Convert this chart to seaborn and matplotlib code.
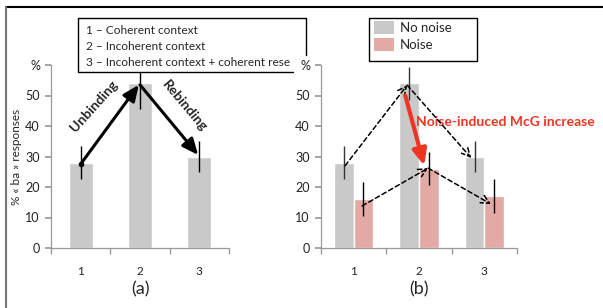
import matplotlib
matplotlib.use("Agg")
import matplotlib.pyplot as plt
import seaborn as sns
import pandas as pd
from matplotlib.lines import Line2D
from matplotlib.patches import Polygon, Patch, Rectangle

# data
contexts = ["1", "2", "3"]
a_values = [28, 54, 30]
a_errors = [5.5, 8.5, 5]

conditions = ["No noise", "Noise"]
b_no_noise = [28, 54, 30]
b_no_noise_err = [5.5, 5.5, 5]
b_noise = [16, 26, 17]
b_noise_err = [5.5, 5.5, 5.5]

legend_a = ["1 \u2013 Coherent context",
            "2 \u2013 Incoherent context",
            "3 \u2013 Incoherent context + coherent rese"]
yticks = [0, 10, 20, 30, 40, 50, 60]
ytick_labels = ["0", "10", "20", "30", "40", "50", "%"]

GRAY = "#c9c9c9"
PINK = "#e3a9a5"
AXC = "#9a9a9a"
W, H = 603, 308

sns.set_theme(style="white")
plt.rcParams["font.family"] = ["Lato", "DejaVu Sans"]


def fx(px):
    return px / W


def fy(py):
    return 1 - py / H


fig = plt.figure(figsize=(W / 100, H / 100), dpi=100)
ax_a = fig.add_axes([fx(51), fy(248), fx(229) - fx(51), fy(65) - fy(248)])
ax_b = fig.add_axes([fx(321), fy(248), fx(517) - fx(321), fy(65) - fy(248)])


def style_axes(ax):
    ax.set_ylim(0, 60)
    ax.set_xlim(-0.5, 2.5)
    ax.set_yticks(yticks)
    ax.set_yticklabels(ytick_labels)
    for s in ["top", "right"]:
        ax.spines[s].set_visible(False)
    for s in ["left", "bottom"]:
        ax.spines[s].set_color(AXC)
        ax.spines[s].set_linewidth(0.9)
    ax.tick_params(axis="y", left=True, length=4, color=AXC, labelsize=9,
                   pad=4, labelcolor="#222222")
    ax.tick_params(axis="x", which="major", bottom=False, labelsize=8.5,
                   pad=7, labelcolor="#222222")
    ax.set_xticks([-0.5, 0.5, 1.5, 2.5], minor=True)
    ax.tick_params(axis="x", which="minor", bottom=True, length=4, color=AXC)


# panel (a)
df_a = pd.DataFrame({"context": contexts, "value": a_values})
sns.barplot(data=df_a, x="context", y="value", color=GRAY, width=0.4,
            saturation=1, errorbar=None, ax=ax_a)
ax_a.errorbar(range(3), a_values, yerr=a_errors, fmt="none", ecolor="black",
              elinewidth=1, capsize=0, clip_on=False, zorder=3)
style_axes(ax_a)
ax_a.set_xlabel("(a)", fontsize=13, labelpad=3)
ax_a.set_ylabel("% \u00ab ba \u00bb responses", fontsize=8.5)
ax_a.yaxis.set_label_coords(-0.165, 0.5)

arrow_kw = dict(arrowstyle="-|>,head_length=0.8,head_width=0.35", color="black",
                lw=2.2, shrinkA=0, shrinkB=0)
ax_a.annotate("", xy=(0.98, 53.5), xytext=(0, 27.5), arrowprops=arrow_kw,
              annotation_clip=False, zorder=4)
ax_a.annotate("", xy=(1.98, 30.5), xytext=(1.0, 53.5), arrowprops=arrow_kw,
              annotation_clip=False, zorder=4)
ax_a.plot([0], [27.5], "o", color="black", ms=3, zorder=4)
ax_a.text(0.22, 46.5, "Unbinding", rotation=48, ha="center", va="center",
          fontsize=10, fontweight="bold")
ax_a.text(1.75, 46.5, "Rebinding", rotation=-50, ha="center", va="center",
          fontsize=10, fontweight="bold")

# panel (b)
df_b = pd.DataFrame({
    "context": contexts * 2,
    "value": b_no_noise + b_noise,
    "condition": [conditions[0]] * 3 + [conditions[1]] * 3,
})
sns.barplot(data=df_b, x="context", y="value", hue="condition",
            palette=[GRAY, PINK], width=0.6, saturation=1, errorbar=None,
            legend=False, ax=ax_b)
ax_b.errorbar([i - 0.15 for i in range(3)], b_no_noise, yerr=b_no_noise_err,
              fmt="none", ecolor="#333333", elinewidth=1, capsize=0, zorder=3)
ax_b.errorbar([i + 0.15 for i in range(3)], b_noise, yerr=b_noise_err,
              fmt="none", ecolor="black", elinewidth=1, capsize=0, zorder=3)
style_axes(ax_b)
ax_b.set_ylabel("")
ax_b.set_xlabel("(b)", fontsize=13, labelpad=3)

dash_kw = dict(arrowstyle="->,head_length=0.5,head_width=0.25", color="black",
               lw=1.1, ls=(0, (3, 2)), shrinkA=0, shrinkB=0)
ax_b.annotate("", xy=(0.82, 53.4), xytext=(-0.13, 27), arrowprops=dash_kw, zorder=4)
ax_b.annotate("", xy=(1.80, 29.5), xytext=(0.82, 53.4), arrowprops=dash_kw, zorder=4)
ax_b.annotate("", xy=(1.14, 26.2), xytext=(0.13, 13.8), arrowprops=dash_kw, zorder=4)
ax_b.annotate("", xy=(2.10, 14.4), xytext=(1.14, 26.2), arrowprops=dash_kw, zorder=4)

ax_b.annotate("", xy=(1.08, 27), xytext=(0.79, 50),
              arrowprops=dict(arrowstyle="-|>,head_length=0.8,head_width=0.35",
                              color="#ee3524", lw=3, shrinkA=0, shrinkB=0),
              zorder=5)
ax_b.text(0.96, 41.3, "Noise-induced McG increase", color="#ee3524",
          fontsize=10, fontweight="bold", ha="left", va="center")

# legend of panel (b)
fig.add_artist(Rectangle((fx(369), fy(61)), fx(477) - fx(369), fy(18) - fy(61),
                         facecolor="white", edgecolor="black", lw=1,
                         transform=fig.transFigure, zorder=5))
handles = [Patch(facecolor=GRAY, edgecolor="none"),
           Patch(facecolor=PINK, edgecolor="none")]
leg = fig.legend(handles, conditions, loc="upper left",
                 bbox_to_anchor=(fx(372), fy(19)), bbox_transform=fig.transFigure,
                 fontsize=9.5, frameon=False,
                 handlelength=1.5, handleheight=1.15, handletextpad=0.45,
                 borderpad=0.15, labelspacing=0.32, borderaxespad=0)
leg.set_zorder(6)

# legend box of panel (a), partly hidden behind panel (b)
box_fill = Polygon([(fx(78), fy(18)), (fx(306), fy(18)), (fx(306), fy(55)),
                    (fx(293), fy(55)), (fx(293), fy(72)), (fx(78), fy(72))],
                   closed=True, facecolor="white", edgecolor="none",
                   transform=fig.transFigure, zorder=5)
fig.add_artist(box_fill)
fig.add_artist(Line2D([fx(293), fx(78), fx(78), fx(306), fx(306)],
                      [fy(72), fy(72), fy(18), fy(18), fy(55)],
                      color="black", lw=1, transform=fig.transFigure, zorder=6))
for i, line in enumerate(legend_a):
    fig.text(fx(86), fy(31 + 15.5 * i), line, fontsize=8.6, va="center",
             ha="left", zorder=7)

# outer frame
fig.add_artist(Line2D([fx(6), 1], [fy(7), fy(7)], color="black", lw=1.5))
fig.add_artist(Line2D([fx(6), fx(6)], [fy(7), 0], color="#777777", lw=1.5))

fig.savefig("out.png", dpi=100)
